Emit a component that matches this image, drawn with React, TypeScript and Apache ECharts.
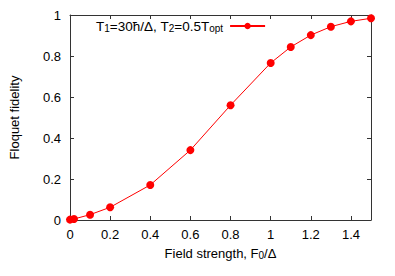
import React, { useEffect, useRef } from "react";
import * as echarts from "echarts";

const fieldStrength = [0, 0.02, 0.1, 0.2, 0.4, 0.6, 0.8, 1.0, 1.1, 1.2, 1.3, 1.4, 1.5];
const fidelity = [0.002, 0.005, 0.026, 0.062, 0.171, 0.341, 0.56, 0.766, 0.844, 0.902, 0.943, 0.969, 0.984];
const seriesName = "T1=30ħ/Δ, T2=0.5Topt";

const FONT = "Liberation Sans, Arial, sans-serif";
const AXIS_COLOR = "#333";

export default function App() {
  const ref = useRef<HTMLDivElement>(null);
  useEffect(() => {
    if (!ref.current) return;
    const chart = echarts.init(ref.current, null, { renderer: "svg" });
    const rich = {
      n: { fontSize: 13, fontFamily: FONT, color: "#000", lineHeight: 14 },
      s: { fontSize: 10, fontFamily: FONT, color: "#000", lineHeight: 3, verticalAlign: "bottom" },
    };
    const legendRich = {
      n: { fontSize: 13.5, fontFamily: FONT, color: "#000", lineHeight: 14 },
      s: { fontSize: 10, fontFamily: FONT, color: "#000", lineHeight: 3, verticalAlign: "bottom" },
    };
    const xCommon = {
      type: "value",
      min: 0,
      max: 1.5,
      interval: 0.2,
      axisLine: { show: true, onZero: false, lineStyle: { color: AXIS_COLOR, width: 1 } },
      axisTick: { show: true, inside: true, length: 4, lineStyle: { color: AXIS_COLOR } },
      splitLine: { show: false },
    };
    const yCommon = {
      type: "value",
      min: 0,
      max: 1,
      interval: 0.2,
      axisLine: { show: true, onZero: false, lineStyle: { color: AXIS_COLOR, width: 1 } },
      axisTick: { show: true, inside: true, length: 4, lineStyle: { color: AXIS_COLOR } },
      splitLine: { show: false },
    };
    chart.setOption({
      animation: false,
      textStyle: { fontFamily: FONT },
      grid: { left: 65, right: 24, top: 15, bottom: 56, containLabel: false },
      legend: {
        show: true,
        left: 96,
        top: 19,
        padding: 0,
        align: "right",
        itemWidth: 35,
        itemHeight: 8,
        itemGap: 7,
        data: [seriesName],
        formatter: () => "{n|T}{s|1}{n|=30ħ/Δ, T}{s|2}{n|=0.5T}{s|opt}",
        textStyle: { rich: legendRich, fontSize: 13.5, color: "#000", padding: [0, 2, 0, 0] },
      },
      xAxis: [
        {
          ...xCommon,
          position: "bottom",
          name: "{n|Field strength, F}{s|0}{n|/Δ}",
          nameLocation: "middle",
          nameGap: 26,
          nameTextStyle: { rich },
          axisLabel: {
            show: true,
            fontSize: 13,
            color: "#000",
            fontFamily: FONT,
            margin: 8,
            formatter: (v: number) => (Math.abs(v - 1.5) < 1e-6 ? "" : String(Math.round(v * 10) / 10)),
          },
        },
        { ...xCommon, position: "top", axisLabel: { show: false } },
      ],
      yAxis: [
        {
          ...yCommon,
          position: "left",
          name: "Floquet fidelity",
          nameLocation: "middle",
          nameGap: 49,
          nameTextStyle: { fontSize: 13, color: "#000", fontFamily: FONT },
          axisLabel: {
            show: true,
            fontSize: 13,
            color: "#000",
            fontFamily: FONT,
            margin: 9,
            formatter: (v: number) => String(Math.round(v * 10) / 10),
          },
        },
        { ...yCommon, position: "right", axisLabel: { show: false } },
      ],
      series: [
        {
          name: seriesName,
          type: "line",
          xAxisIndex: 0,
          yAxisIndex: 0,
          data: fieldStrength.map((x, i) => [x, fidelity[i]]),
          symbol: "circle",
          symbolSize: 8,
          showAllSymbol: true,
          clip: false,
          itemStyle: { color: "#ff0000" },
          lineStyle: { color: "#ff0000", width: 1 },
        },
      ],
    });
    return () => chart.dispose();
  }, []);
  return <div ref={ref} style={{ width: 395, height: 276, position: "absolute", left: 0, top: 0 }} />;
}
